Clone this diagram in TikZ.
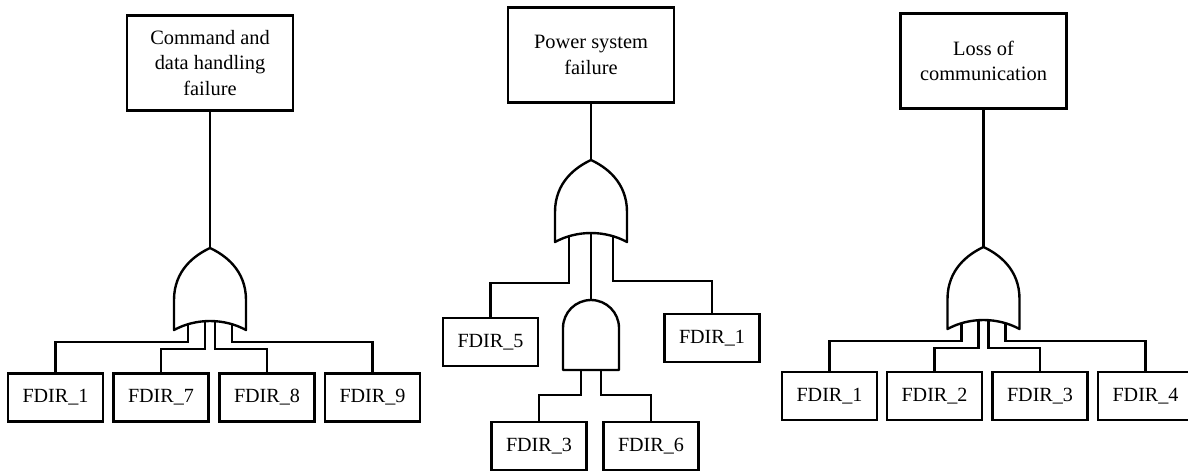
\documentclass[tikz,border=0pt]{standalone}
\usepackage{fontspec}
\setmainfont{Liberation Serif}
\begin{document}
\begin{tikzpicture}[x=0.025cm,y=-0.025cm,
  event/.style={draw, line width=2pt, align=center, minimum width=4.15cm, minimum height=2.375cm, font=\fontsize{14.5}{18}\selectfont},
  basic/.style={draw, line width=2pt, minimum width=2.375cm, minimum height=1.2cm, inner sep=0pt, font=\fontsize{14.3}{17}\selectfont},
  wire/.style={line width=1.7pt},
  gate/.style={line width=1.7pt, line join=round},
  orgate/.pic={
    \draw[gate] (-36,82) -- (-36,52) .. controls (-36,22) and (-15,7) .. (0,0)
      .. controls (15,7) and (36,22) .. (36,52) -- (36,82)
      .. controls (14,70) and (-14,70) .. (-36,82) -- cycle;
    \coordinate (-top) at (0,0);
    \coordinate (-a) at (-22,77);
    \coordinate (-b) at (-5,74);
    \coordinate (-c) at (0,73);
    \coordinate (-d) at (5,74);
    \coordinate (-e) at (22,77);
  },
  andgate/.pic={
    \draw[gate] (-28,70) -- (-28,28) .. controls (-28,12.5) and (-15.5,0) .. (0,0)
      .. controls (15.5,0) and (28,12.5) .. (28,28) -- (28,70) -- cycle;
    \coordinate (-top) at (0,0);
    \coordinate (-l) at (-10,70);
    \coordinate (-r) at (10,70);
  }]
\useasboundingbox (0,0) rectangle (1188,470);
% top events
\node[event] (cdh) at (210,63) {Command and\\data handling\\failure};
\node[event] (pwr) at (591,55) {Power system\\failure};
\node[event] (com) at (983.5,61) {Loss of\\communication};
% gates
\pic (or1) at (210,248) {orgate};
\pic (or2) at (591,160) {orgate};
\pic (or3) at (983.5,247) {orgate};
\pic (and1) at (591,300) {andgate};
% basic events
\node[basic] (cdh1) at (55.5,397.5) {FDIR\_1};
\node[basic] (cdh7) at (161,397.5) {FDIR\_7};
\node[basic] (cdh8) at (267,397.5) {FDIR\_8};
\node[basic] (cdh9) at (372.5,397.5) {FDIR\_9};
\node[basic] (pwr5) at (490.5,342) {FDIR\_5};
\node[basic] (pwr1) at (712,338) {FDIR\_1};
\node[basic] (pwr3) at (539,446) {FDIR\_3};
\node[basic] (pwr6) at (651,446) {FDIR\_6};
\node[basic] (com1) at (829.5,396) {FDIR\_1};
\node[basic] (com2) at (934.5,396) {FDIR\_2};
\node[basic] (com3) at (1040,396) {FDIR\_3};
\node[basic] (com4) at (1145.5,396) {FDIR\_4};
% connectors
\draw[wire] (cdh) -- (or1-top);
\draw[wire] (or1-a) -- ++(0,17) -| (cdh1);
\draw[wire] (or1-b) -- ++(0,27) -| (cdh7);
\draw[wire] (or1-d) -- ++(0,27) -| (cdh8);
\draw[wire] (or1-e) -- ++(0,17) -| (cdh9);
\draw[wire] (pwr) -- (or2-top);
\draw[wire] (or2-a) -- ++(0,46) -| (pwr5);
\draw[wire] (or2-e) -- ++(0,44) -| (pwr1);
\draw[wire] (or2-c) -- (and1-top);
\draw[wire] (and1-l) -- ++(0,25) -| (pwr3);
\draw[wire] (and1-r) -- ++(0,25) -| (pwr6);
\draw[wire] (com) -- (or3-top);
\draw[wire] (or3-a) -- ++(0,17) -| (com1);
\draw[wire] (or3-b) -- ++(0,27) -| (com2);
\draw[wire] (or3-d) -- ++(0,27) -| (com3);
\draw[wire] (or3-e) -- ++(0,17) -| (com4);
\end{tikzpicture}
\end{document}
